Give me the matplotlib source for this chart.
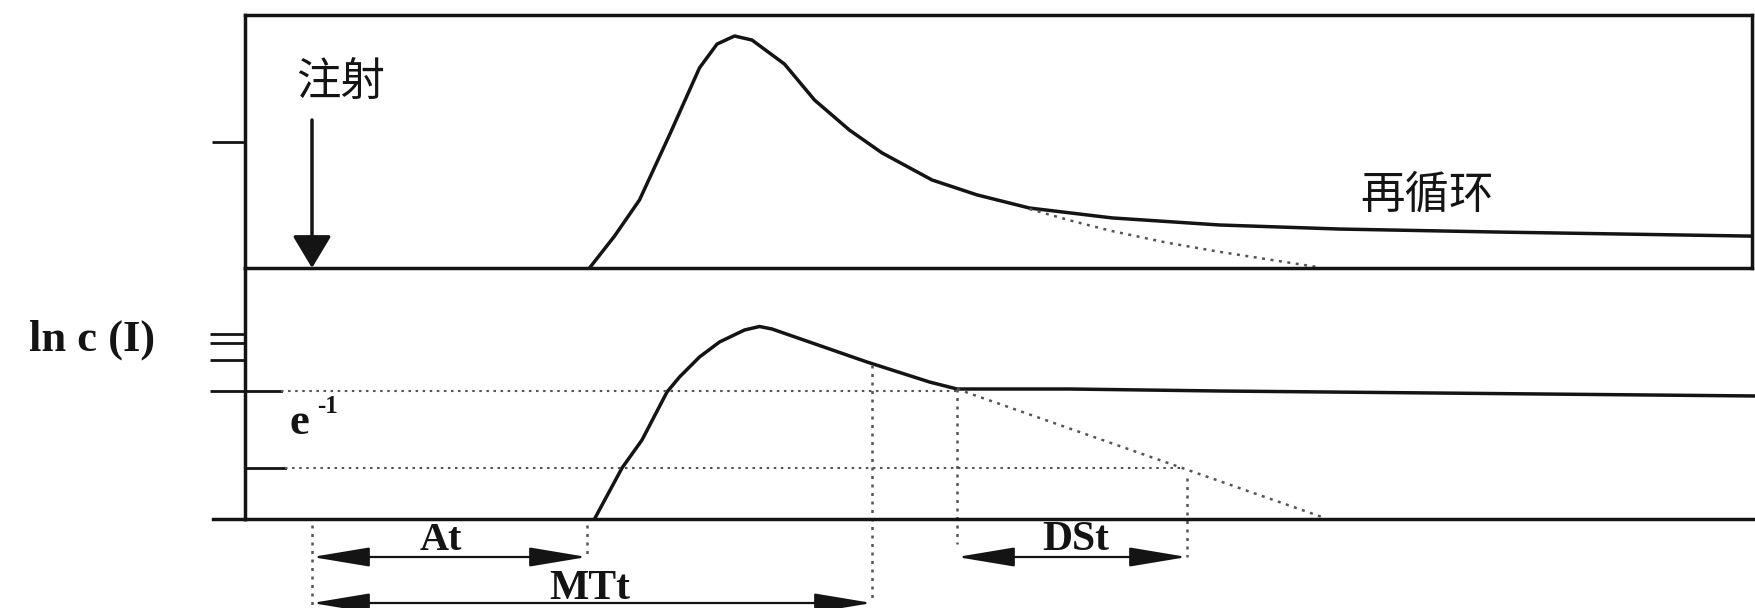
import matplotlib.pyplot as plt

plt.rcParams['font.family'] = ['Noto Sans CJK SC', 'DejaVu Sans']

# first-pass concentration curve (top panel), time in s
t_first = [11.1, 12.1, 13.1, 14.3, 15.5, 16.2, 16.9, 17.6, 18.9, 20.1, 21.5,
           22.8, 24.8, 26.6, 28.7, 32.0, 36.3, 41.1, 47.5, 57.6]
c_first = [0, 12.6, 26.9, 52.6, 79.1, 88.5, 91.7, 90.1, 80.6, 66.4, 54.5,
           45.5, 34.8, 28.9, 23.7, 19.8, 17.0, 15.4, 14.2, 12.6]
# extrapolated decay without recirculation
t_first_fit = [28.7, 30.4, 32.0, 34.2, 36.3, 40.2]
c_first_fit = [23.3, 18.6, 14.6, 10.0, 6.4, 0.4]

# ln c curve (bottom panel)
t_ln = [11.3, 12.4, 13.2, 14.2, 14.7, 15.5, 16.3, 17.3, 17.9, 18.4, 22.2, 24.7,
        25.8, 30.3, 36.3, 57.8]
ln_c = [0, 2.04, 3.16, 5.08, 5.68, 6.48, 7.08, 7.56, 7.7, 7.6, 6.28, 5.48,
        5.2, 5.2, 5.12, 4.92]
t_ln_fit = [25.8, 40.4]
ln_fit = [5.2, 0.08]

# times and levels
t_inject = 0.0
t_at = 11.0
t_mtt = 22.4
t_ds0 = 25.8
t_ds1 = 35.0
e_level = 5.12
low_level = 2.04
ln_ticks = [7.4, 7.04, 6.36]

black = '#141414'
grey = '#555555'
dots = (0, (1.2, 2.2))
serif = dict(family='Liberation Serif', fontweight='bold', color=black)

fig = plt.figure(figsize=(17.56, 6.08), dpi=100)
W, H = 1756, 608
ax_top = fig.add_axes([245 / W, 340 / H, 1507 / W, 253 / H])
ax_bot = fig.add_axes([245 / W, 89 / H, 1511 / W, 251 / H])

ax_top.set_xlim(-2.68, 57.6)
ax_top.set_ylim(0, 100)
ax_bot.set_xlim(-2.68, 57.76)
ax_bot.set_ylim(0, 10.04)

for ax in (ax_top, ax_bot):
    ax.set_facecolor('none')
    ax.set_xticks([])
    for s in ax.spines.values():
        s.set_linewidth(2.5)
        s.set_color(black)
ax_bot.spines['top'].set_visible(False)
ax_bot.spines['right'].set_visible(False)

ax_top.set_yticks([50])
ax_top.tick_params(axis='y', direction='out', length=24, width=2.0,
                   color=black, labelleft=False)
ax_bot.set_yticks(ln_ticks + [e_level])
ax_bot.tick_params(axis='y', direction='out', length=25, width=2.0,
                   color=black, labelleft=False)

# top panel
ax_top.plot(t_first, c_first, color=black, lw=2.5)
ax_top.plot(t_first_fit, c_first_fit, color=grey, lw=1.8, ls=dots)
ax_top.annotate('', xy=(t_inject, 0), xytext=(t_inject, 58.5),
                arrowprops=dict(arrowstyle='-|>,head_length=1.0,head_width=0.6',
                                mutation_scale=20, lw=2.5, color=black,
                                shrinkA=0, shrinkB=0))
ax_top.text(1.16, 73.5, '注射', fontsize=32, ha='center', va='center', color=black)
ax_top.text(44.6, 28.9, '再循环', fontsize=32, ha='center', va='center', color=black)

# bottom panel
x0 = ax_bot.get_xlim()[0]
ax_bot.plot([x0 - 1.28, x0], [0, 0], color=black, lw=2.5, clip_on=False)
ax_bot.plot([x0, x0 + 1.45], [e_level, e_level], color=black, lw=2.0)
ax_bot.plot([x0, x0 + 1.6], [low_level, low_level], color=black, lw=2.0)
ax_bot.plot(t_ln, ln_c, color=black, lw=2.5)
ax_bot.plot(t_ln_fit, ln_fit, color=grey, lw=1.8, ls=dots)
ax_bot.plot([x0 + 1.45, t_ds0], [e_level, e_level], color=grey, lw=1.5, ls=dots)
ax_bot.plot([x0 + 1.6, 34.8], [low_level, low_level], color=grey, lw=1.5, ls=dots)

# vertical markers
ax_bot.plot([t_inject, t_inject], [-0.24, -3.56], color=grey, lw=1.8, ls=dots, clip_on=False)
ax_bot.plot([t_at, t_at], [-0.24, -1.52], color=grey, lw=1.8, ls=dots, clip_on=False)
ax_bot.plot([t_mtt, t_mtt], [6.16, -3.36], color=grey, lw=1.8, ls=dots, clip_on=False)
ax_bot.plot([t_ds0, t_ds0], [5.2, -1.0], color=grey, lw=1.8, ls=dots, clip_on=False)
ax_bot.plot([t_ds1, t_ds1], [low_level - 0.4, -1.52], color=grey, lw=1.8, ls=dots, clip_on=False)

arrow = dict(arrowstyle='<|-|>,head_length=1.8,head_width=0.3',
             mutation_scale=20, lw=1.6, color=black, shrinkA=0, shrinkB=0)
for a, b, y in [(t_inject, t_at, -1.52), (t_inject, t_mtt, -3.36), (t_ds0, t_ds1, -1.52)]:
    ax_bot.annotate('', xy=(a, y), xytext=(b, y), arrowprops=arrow,
                    annotation_clip=False)

ax_bot.text(5.16, -0.88, 'At', fontsize=29, ha='center', va='center', **serif)
ax_bot.text(11.12, -2.8, 'MTt', fontsize=30, ha='center', va='center', **serif)
ax_bot.text(30.56, -0.84, 'DSt', fontsize=30, ha='center', va='center', **serif)
ax_bot.text(-0.52, 3.84, 'e', fontsize=32, ha='center', va='center', **serif)
ax_bot.text(0.64, 4.5, '-1', fontsize=18, ha='center', va='center', **serif)
fig.text(92 / W, 268 / H, 'ln c (I)', fontsize=32, ha='center', va='center', **serif)

fig.savefig('out.png', dpi=100)
